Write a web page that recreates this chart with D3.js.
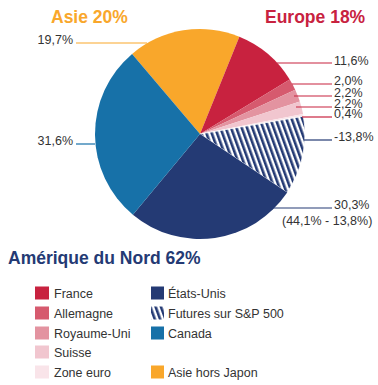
<!DOCTYPE html>
<html><head><meta charset="utf-8">
<script src="https://cdn.jsdelivr.net/npm/d3@7"></script>
<style>
body{margin:0;background:#fff;}
svg{display:block;font-family:"Liberation Sans",Arial,sans-serif;}
</style></head><body>
<svg id="chart" width="378" height="385"></svg>
<script>
// Data
const categories = ["Asie hors Japon","France","Allemagne","Royaume-Uni","Suisse","Zone euro","Futures sur S&P 500","États-Unis","Canada"];
const values = [19.7, 11.6, 2.0, 2.2, 2.2, 0.4, 13.8, 30.3, 31.6];
const sliceLabels = ["19,7%","11,6%","2,0%","2,2%","2,2%","0,4%","-13,8%","30,3%","31,6%"];
const colors = ["#F9A72B","#C8223F","#D65A6E","#E393A0","#F1C6CF","#F9E4E9","url(#hatch)","#243A74","#1771A8"];
const lineColors = ["#F9A72B","#C8223F","#C8223F","#C8223F","#C8223F","#C8223F","#243A74","#243A74","#1771A8"];
const regionTitles = ["Asie 20%","Europe 18%","Amérique du Nord 62%"];
const regionColors = ["#F9A72B","#C8223F","#243A74"];
const legendCol1 = ["France","Allemagne","Royaume-Uni","Suisse","Zone euro"];
const legendCol2 = ["États-Unis","Futures sur S&P 500","Canada",null,"Asie hors Japon"];

const svg = d3.select("#chart");
const defs = svg.append("defs");
const pat = defs.append("pattern").attr("id","hatch").attr("patternUnits","userSpaceOnUse")
  .attr("width",5).attr("height",10).attr("patternTransform","rotate(-20)");
pat.append("rect").attr("width",5).attr("height",10).attr("fill","#fff");
pat.append("rect").attr("x",0).attr("width",2.6).attr("height",10).attr("fill","#243A74");

const cx = 200, cy = 134, r = 105;
const startA = -40.3 * Math.PI/180;
const pie = d3.pie().sort(null).value(d=>d).startAngle(startA).endAngle(startA + 2*Math.PI);
const arcs = pie(values);
const arc = d3.arc().innerRadius(0).outerRadius(r);
const g = svg.append("g").attr("transform",`translate(${cx},${cy})`);
g.selectAll("path").data(arcs).join("path")
  .attr("d",arc).attr("fill",(d,i)=>colors[i])
  .attr("stroke",(d,i)=> i===6 ? "#fff" : "none").attr("stroke-width",0.8);

const textColor = "#333";
const fs = 12.5;
const leaders = [
  {i:0, y:43, x1:147, x2:76, tx:73, anchor:"end"},
  {i:1, y:63, x1:277, x2:332, tx:334, anchor:"start"},
  {i:2, y:84, x1:292, x2:332, tx:334, anchor:"start"},
  {i:3, y:96, x1:294, x2:332, tx:334, anchor:"start"},
  {i:4, y:107, x1:296, x2:332, tx:334, anchor:"start"},
  {i:5, y:117, x1:302, x2:332, tx:334, anchor:"start"},
  {i:6, y:140, x1:304, x2:332, tx:334, anchor:"start"},
  {i:7, y:208, x1:273, x2:332, tx:334, anchor:"start"},
  {i:8, y:144, x1:95, x2:76, tx:73, anchor:"end"}
];
const textY = {0:44,1:65,2:85,3:96.5,4:107.5,5:118,6:141,7:209,8:145};
svg.selectAll("line.lead").data(leaders).join("line").attr("class","lead")
  .attr("x1",d=>d.x1).attr("x2",d=>d.x2).attr("y1",d=>d.y).attr("y2",d=>d.y)
  .attr("stroke",d=>lineColors[d.i]).attr("stroke-width",1.2);
svg.selectAll("text.lab").data(leaders).join("text").attr("class","lab")
  .attr("x",d=>d.tx).attr("y",d=>textY[d.i]).attr("text-anchor",d=>d.anchor)
  .attr("font-size",fs).attr("fill",textColor).text(d=>sliceLabels[d.i]);
svg.append("text").attr("x",282).attr("y",225).attr("font-size",fs).attr("fill",textColor)
  .text("(44,1% - 13,8%)");

// region titles
const titlePos = [{x:51,y:23},{x:265,y:23},{x:8,y:264}];
regionTitles.forEach((t,k)=>{
  svg.append("text").attr("x",titlePos[k].x).attr("y",titlePos[k].y)
    .attr("font-size",17.5).attr("font-weight","bold").attr("fill",regionColors[k]).text(t);
});

// legend
const rowY = [293,313,333,352,372];
const colorOf = name => colors[categories.indexOf(name)];
legendCol1.forEach((n,k)=>{
  svg.append("rect").attr("x",35).attr("y",rowY[k]-6.5).attr("width",14).attr("height",13).attr("fill",colorOf(n));
  svg.append("text").attr("x",54).attr("y",rowY[k]+4.5).attr("font-size",fs).attr("fill",textColor).text(n);
});
legendCol2.forEach((n,k)=>{
  if(!n) return;
  svg.append("rect").attr("x",151).attr("y",rowY[k]-6.5).attr("width",13).attr("height",13).attr("fill",colorOf(n));
  svg.append("text").attr("x",168).attr("y",rowY[k]+4.5).attr("font-size",fs).attr("fill",textColor).text(n);
});
</script>
</body></html>
